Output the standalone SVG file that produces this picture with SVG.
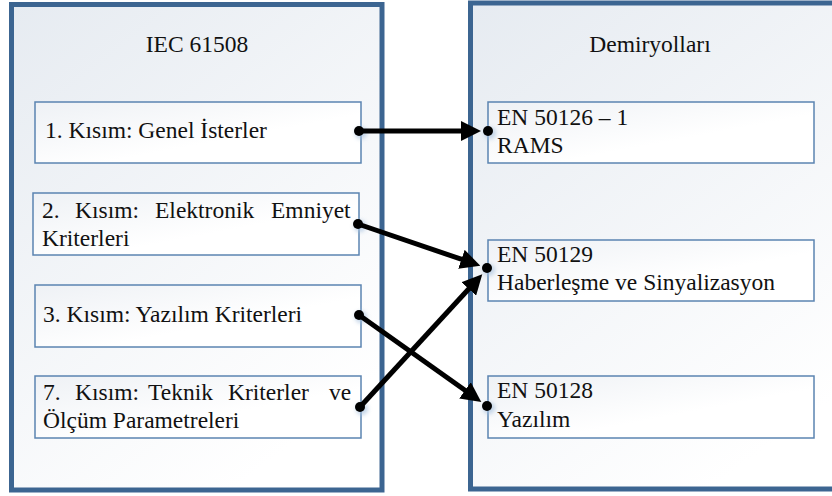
<svg xmlns="http://www.w3.org/2000/svg" width="832" height="496" viewBox="0 0 832 496">
  <defs>
    <linearGradient id="gCont" x1="0" y1="0" x2="0.6" y2="1">
      <stop offset="0" stop-color="#e6ebf1"/>
      <stop offset="1" stop-color="#ffffff"/>
    </linearGradient>
    <linearGradient id="gBox" x1="0" y1="0" x2="1" y2="1">
      <stop offset="0" stop-color="#eef1f5"/>
      <stop offset="0.6" stop-color="#ffffff"/>
      <stop offset="1" stop-color="#ffffff"/>
    </linearGradient>
    <filter id="glow" x="-1" y="-1" width="3" height="3">
      <feGaussianBlur stdDeviation="2"/>
    </filter>
    <marker id="arr" markerUnits="userSpaceOnUse" markerWidth="20" markerHeight="20" refX="6" refY="10" orient="auto">
      <path d="M0,0 L20,10 L0,20 z" fill="#000"/>
    </marker>
    <style>
      .cont { fill: url(#gCont); stroke: #3c6591; stroke-width: 5; }
      .box { fill: url(#gBox); stroke: #5b84b1; stroke-width: 1.5; }
      .t { font-family: "Liberation Serif", "Times New Roman", serif; font-size: 23.5px; fill: #111; }
      .title { text-anchor: middle; }
      .conn { stroke: #000; stroke-width: 5; fill: none; marker-end: url(#arr); }
      .dot { fill: #000; }
      .halo { fill: #a9c2de; opacity: 0.7; filter: url(#glow); }
    </style>
  </defs>

  <g id="iec61508">
    <rect class="cont" x="11.5" y="4.5" width="370.5" height="485.5"/>
    <text class="t title" x="197" y="52">IEC 61508</text>
  </g>
  <g id="demiryollari">
    <rect class="cont" x="470.5" y="3" width="400" height="486"/>
    <text class="t title" x="650" y="52">Demiryolları</text>
  </g>

  <g id="kisim1">
    <rect class="box" x="35" y="102" width="326" height="61"/>
    <text class="t" x="45" y="138">1. Kısım: Genel İsterler</text>
  </g>
  <g id="kisim2">
    <rect class="box" x="33" y="193" width="326" height="62"/>
    <text class="t" y="218"><tspan x="42">2.</tspan><tspan x="75">Kısım:</tspan><tspan x="155">Elektronik</tspan><tspan x="271">Emniyet</tspan></text>
    <text class="t" x="42" y="246">Kriterleri</text>
  </g>
  <g id="kisim3">
    <rect class="box" x="35" y="285" width="326" height="62"/>
    <text class="t" x="43" y="322">3. Kısım: Yazılım Kriterleri</text>
  </g>
  <g id="kisim7">
    <rect class="box" x="35" y="376" width="326" height="62"/>
    <text class="t" y="400"><tspan x="43">7.</tspan><tspan x="75">Kısım:</tspan><tspan x="148">Teknik</tspan><tspan x="228">Kriterler</tspan><tspan x="329">ve</tspan></text>
    <text class="t" x="43" y="428">Ölçüm Parametreleri</text>
  </g>

  <g id="en50126">
    <rect class="box" x="488" y="102" width="326" height="61"/>
    <text class="t" x="497" y="125">EN 50126 – 1</text>
    <text class="t" x="497" y="153">RAMS</text>
  </g>
  <g id="en50129">
    <rect class="box" x="488" y="240" width="326" height="61"/>
    <text class="t" x="497" y="262">EN 50129</text>
    <text class="t" x="497" y="290">Haberleşme ve Sinyalizasyon</text>
  </g>
  <g id="en50128">
    <rect class="box" x="488" y="376" width="326" height="62"/>
    <text class="t" x="497" y="398">EN 50128</text>
    <text class="t" x="497" y="427">Yazılım</text>
  </g>

  <g id="connectors">
    <circle class="halo" cx="361" cy="133" r="6"/>
    <circle class="halo" cx="360" cy="226" r="6"/>
    <circle class="halo" cx="361" cy="317" r="6"/>
    <circle class="halo" cx="362" cy="409" r="6"/>
    <circle class="halo" cx="490" cy="133" r="6"/>
    <circle class="halo" cx="489" cy="270" r="6"/>
    <circle class="halo" cx="489" cy="408" r="6"/>

    <line class="conn" x1="359" y1="131" x2="467" y2="131"/>
    <circle class="dot" cx="359" cy="131" r="5"/>
    <circle class="dot" cx="488" cy="131" r="5"/>

    <line class="conn" x1="358" y1="224" x2="467.1" y2="261.2"/>
    <circle class="dot" cx="358" cy="224" r="5"/>

    <line class="conn" x1="359" y1="315" x2="469.9" y2="393.8"/>
    <circle class="dot" cx="359" cy="315" r="5"/>
    <circle class="dot" cx="487" cy="406" r="5"/>

    <line class="conn" x1="360" y1="407" x2="472.8" y2="284.5"/>
    <circle class="dot" cx="360" cy="407" r="5"/>
    <circle class="dot" cx="487" cy="268" r="5"/>
  </g>
</svg>
